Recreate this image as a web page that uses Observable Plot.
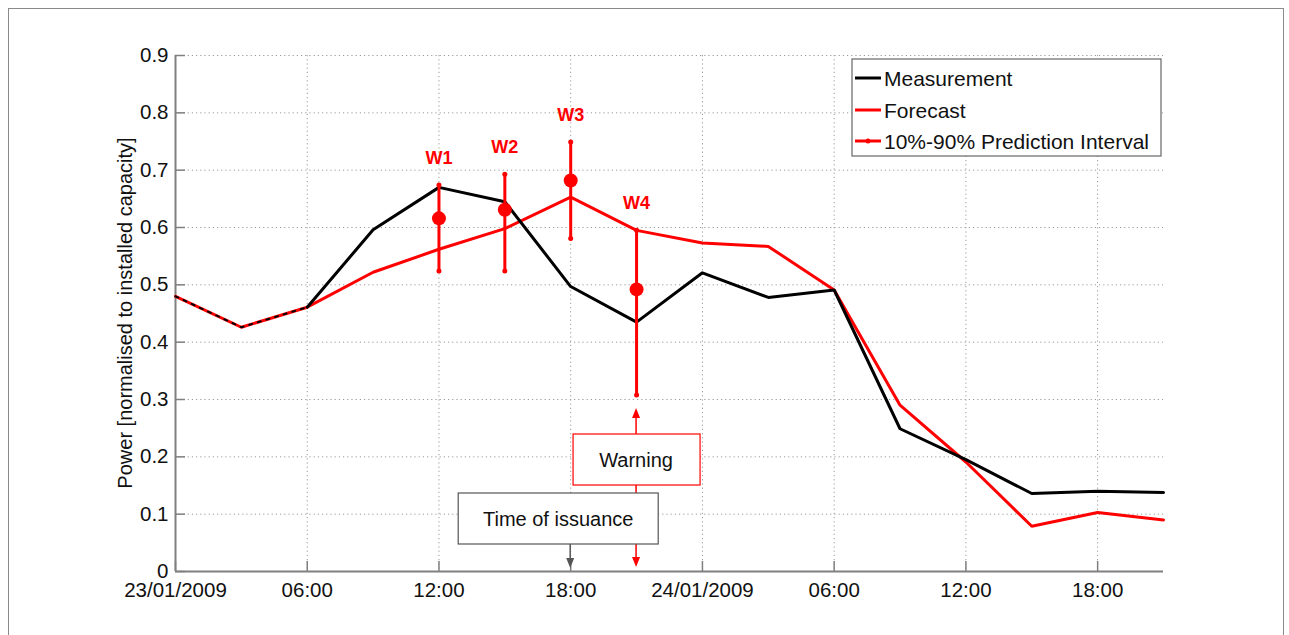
<!DOCTYPE html>
<html>
<head>
<meta charset="utf-8">
<script src="https://cdn.jsdelivr.net/npm/d3@7"></script>
<script src="https://cdn.jsdelivr.net/npm/@observablehq/plot@0.6"></script>
<style>
  html, body { margin: 0; padding: 0; background: #fff; overflow: hidden; }
  #wrap { position: relative; width: 1289px; height: 635px; }
  #frame { position: absolute; left: 8px; top: 8px; width: 1276px; height: 700px; border: 1.5px solid #8a8a8a; box-sizing: border-box; }
  #chart { position: absolute; left: 0; top: 0; }
</style>
</head>
<body>
<div id="wrap"><div id="frame"></div><div id="chart"></div></div>
<script>
// ---- data ----
const hours = [0, 3, 6, 9, 12, 15, 18, 21, 24, 27, 30, 33, 36, 39, 42, 45];
const measurement = [0.480, 0.426, 0.461, 0.596, 0.670, 0.645, 0.497, 0.435, 0.521, 0.478, 0.491, 0.249, 0.195, 0.136, 0.140, 0.138];
const forecast    = [0.480, 0.426, 0.461, 0.522, 0.562, 0.598, 0.653, 0.595, 0.573, 0.567, 0.491, 0.290, 0.191, 0.079, 0.103, 0.090];

const warnNames = ["W1", "W2", "W3", "W4"];
const warnHours = [12, 15, 18, 21];
const warnMean  = [0.616, 0.631, 0.682, 0.492];
const warnLow   = [0.524, 0.524, 0.581, 0.308];
const warnHigh  = [0.674, 0.693, 0.749, 0.595];

const xTicks = [0, 6, 12, 18, 24, 30, 36, 42];
const xTickLabels = ["23/01/2009", "06:00", "12:00", "18:00", "24/01/2009", "06:00", "12:00", "18:00"];
const yTicks = [0, 0.1, 0.2, 0.3, 0.4, 0.5, 0.6, 0.7, 0.8, 0.9];
const yTickLabels = ["0", "0.1", "0.2", "0.3", "0.4", "0.5", "0.6", "0.7", "0.8", "0.9"];

const seriesNames = ["Measurement", "Forecast", "10%-90% Prediction Interval"];
const yLabel = "Power [normalised to installed capacity]";
const issuanceHour = 18, issuanceLabel = "Time of issuance";
const warningHour = 21, warningLabel = "Warning";

// ---- tables ----
const series = hours.map((h, i) => ({h, m: measurement[i], f: forecast[i]}));
const warns = warnNames.map((n, i) => ({name: n, h: warnHours[i], mean: warnMean[i], lo: warnLow[i], hi: warnHigh[i]}));

const W = 1289, H = 635, ML = 175, MR = 126, MT = 55, MB = 64;
const plotW = W - ML - MR, plotH = H - MT - MB;
const font = "'Liberation Sans', Arial, Helvetica, sans-serif";
const RED = "#ff0000";
const INK = "#111";

const plot = Plot.plot({
  width: W, height: H,
  marginLeft: ML, marginRight: MR, marginTop: MT, marginBottom: MB,
  style: {fontFamily: font, fontSize: "20px", background: "transparent", color: INK},
  x: {domain: [0, 45]},
  y: {domain: [0, 0.9]},
  marks: [
    Plot.gridX(xTicks, {stroke: "#9a9a9a", strokeOpacity: 1, strokeDasharray: "1.2,3", strokeWidth: 1}),
    Plot.gridY(yTicks, {stroke: "#9a9a9a", strokeOpacity: 1, strokeDasharray: "1.2,3", strokeWidth: 1}),
    Plot.ruleX(xTicks, {stroke: "#808080", strokeWidth: 1.5, insetTop: plotH - 10}),
    Plot.ruleY(yTicks, {stroke: "#808080", strokeWidth: 1.5, insetRight: plotW - 10}),
    Plot.ruleX([0], {stroke: "#808080", strokeWidth: 2}),
    Plot.ruleY([0], {stroke: "#808080", strokeWidth: 2}),
    Plot.axisX(xTicks, {tickSize: 0, tickPadding: 11, tickFormat: (d, i) => xTickLabels[i], fontSize: 20.5, label: null, fill: INK}),
    Plot.axisY(yTicks, {tickSize: 0, tickPadding: 7, tickFormat: (d, i) => yTickLabels[i], fontSize: 20.5, label: null, fill: INK}),
    Plot.line(series, {x: "h", y: "f", stroke: RED, strokeWidth: 3, strokeLinejoin: "miter"}),
    Plot.line(series.filter(d => d.h >= 6), {x: "h", y: "m", stroke: "black", strokeWidth: 3, strokeLinejoin: "miter"}),
    Plot.line(series.filter(d => d.h <= 6), {x: "h", y: "m", stroke: "black", strokeWidth: 2, strokeDasharray: "3,6"}),
    Plot.ruleX(warns, {x: "h", y1: "lo", y2: "hi", stroke: RED, strokeWidth: 3}),
    Plot.dot(warns, {x: "h", y: "lo", r: 2.5, fill: RED}),
    Plot.dot(warns, {x: "h", y: "hi", r: 2.5, fill: RED}),
    Plot.dot(warns, {x: "h", y: "mean", r: 7, fill: RED}),
    Plot.text(warns, {x: "h", y: "hi", text: "name", dy: -27, fill: RED, fontWeight: "bold", fontSize: 18})
  ]
});

document.getElementById("chart").appendChild(plot);

const svg = d3.select(plot);
const sx = plot.scale("x");
const bottom = H - MB;

// y-axis label
svg.append("text")
  .attr("transform", `translate(125,${MT + plotH / 2}) rotate(-90)`)
  .attr("text-anchor", "middle").attr("dominant-baseline", "central")
  .attr("font-family", font).attr("font-size", 20).attr("fill", INK)
  .text(yLabel);

function arrow(g, x, y1, y2, color) {
  const dir = y2 > y1 ? 1 : -1;
  g.append("line").attr("x1", x).attr("x2", x).attr("y1", y1).attr("y2", y2 - dir * 8)
    .attr("stroke", color).attr("stroke-width", 1.5);
  g.append("path")
    .attr("d", `M${x - 4},${y2 - dir * 10} L${x + 4},${y2 - dir * 10} L${x},${y2} Z`)
    .attr("fill", color);
}

const ann = svg.append("g");
const xw = sx.apply(warningHour), xi = sx.apply(issuanceHour);
arrow(ann, xw, bottom - 137, bottom - 163, RED);
arrow(ann, xw, bottom - 86, bottom - 4, RED);
ann.append("rect").attr("x", xw - 63).attr("y", bottom - 137).attr("width", 127).attr("height", 51)
  .attr("fill", "white").attr("stroke", RED).attr("stroke-width", 1.2);
ann.append("text").attr("x", xw).attr("y", bottom - 111.5).attr("text-anchor", "middle").attr("dominant-baseline", "central")
  .attr("font-family", font).attr("font-size", 20).attr("fill", INK).text(warningLabel);
ann.append("rect").attr("x", xi - 112).attr("y", bottom - 78).attr("width", 200).attr("height", 51)
  .attr("fill", "white").attr("stroke", "#555").attr("stroke-width", 1.2);
ann.append("text").attr("x", xi - 12).attr("y", bottom - 52.5).attr("text-anchor", "middle").attr("dominant-baseline", "central")
  .attr("font-family", font).attr("font-size", 20).attr("fill", INK).text(issuanceLabel);
arrow(ann, xi, bottom - 27, bottom - 3, "#555");

// legend
const lg = svg.append("g");
lg.append("rect").attr("x", 852).attr("y", 59).attr("width", 309).attr("height", 97)
  .attr("fill", "white").attr("stroke", "#666").attr("stroke-width", 1.2);
const lgColors = ["black", RED, RED];
const lgY = [78, 110, 141];
seriesNames.forEach((name, i) => {
  lg.append("line").attr("x1", 855).attr("x2", 881).attr("y1", lgY[i]).attr("y2", lgY[i])
    .attr("stroke", lgColors[i]).attr("stroke-width", 3);
  if (i === 2) lg.append("circle").attr("cx", 868).attr("cy", lgY[i]).attr("r", 2.5).attr("fill", RED);
  lg.append("text").attr("x", 884).attr("y", lgY[i]).attr("text-anchor", "start").attr("dominant-baseline", "central")
    .attr("font-family", font).attr("font-size", 21).attr("fill", INK).text(name);
});
</script>
</body>
</html>
